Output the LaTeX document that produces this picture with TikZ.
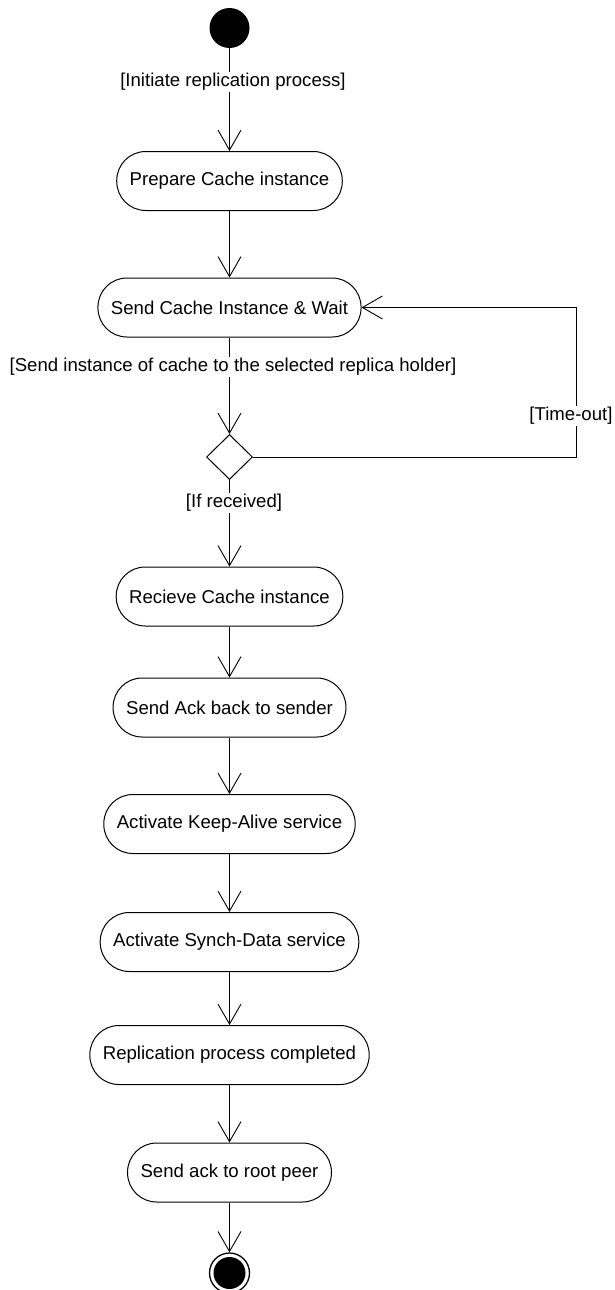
\documentclass[tikz,border=0pt]{standalone}
\usepackage{fontspec}
\setmainfont{Liberation Sans}
\usetikzlibrary{arrows.meta,shapes.geometric}
\begin{document}
\begin{tikzpicture}[x=1pt,y=-1pt,
  every node/.style={font=\fontsize{18.6}{22}\selectfont},
  action/.style={draw, rectangle, rounded corners=29pt, minimum height=59pt,
                 inner xsep=13pt, line width=1pt},
  flow/.style={draw, line width=0.9pt, -{Straight Barb[length=20pt,width=23pt]}},
  guard/.style={fill=white, inner sep=1.5pt}]
\useasboundingbox (0,0) rectangle (614,1290);

% initial node
\node (start) at (229.5,28) [circle, fill=black, minimum size=40pt, inner sep=0pt] {};

% activities
\node (prep)  at (229.5,181)    [action] {Prepare Cache instance};
\node (send)  at (229.5,307.5)  [action] {Send Cache Instance \& Wait};
\node (dec)   at (229.5,457)    [diamond, draw, line width=1pt, aspect=1,
                                 minimum width=46pt, minimum height=45pt, inner sep=0pt] {};
\node (recv)  at (229.5,596.5)  [action] {Recieve Cache instance};
\node (ack)   at (229.5,707.5)  [action] {Send Ack back to sender};
\node (keep)  at (229.5,824)    [action] {Activate Keep-Alive service};
\node (synch) at (229.5,942)    [action] {Activate Synch-Data service};
\node (done)  at (229.5,1055)   [action] {Replication process completed};
\node (root)  at (229.5,1172.5) [action] {Send ack to root peer};

% final node
\node (final) at (229.5,1273) [circle, draw, line width=1.3pt, minimum size=40pt, inner sep=0pt] {};
\fill (final.center) circle (16pt);

% control flow
\draw[flow] (start) -- (prep);
\draw[flow] (prep) -- (send);
\draw[flow] (send) -- (dec);
\draw[flow] (dec) -- (recv);
\draw[flow] (recv) -- (ack);
\draw[flow] (ack) -- (keep);
\draw[flow] (keep) -- (synch);
\draw[flow] (synch) -- (done);
\draw[flow] (done) -- (root);
\draw[flow] (root) -- (final);

% time-out loop back to the send activity
\coordinate (loop) at (576,307.5);
\draw[flow] (dec.east) -| (loop) -- (send.east);

% guards
\node[guard] (g1) at (233,82)  {[Initiate replication process]};
\node[guard] (g2) at (233,367) {[Send instance of cache to the selected replica holder]};
\node[guard] (g3) at (234,503) {[If received]};
\node[guard] (g4) at (571,416) {[Time-out]};
\end{tikzpicture}
\end{document}
